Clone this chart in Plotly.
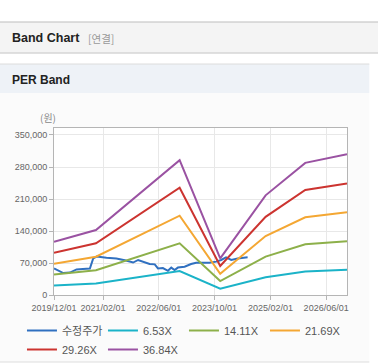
import plotly.graph_objects as go

# ---------------- data ----------------
price_dates = ["2019-12-01", "2020-01-05", "2020-02-20", "2020-04-18", "2020-06-15",
               "2020-08-09", "2020-10-09", "2020-11-07", "2020-12-07", "2021-03-03",
               "2021-05-28", "2021-08-10", "2021-09-22", "2021-10-21", "2021-12-04",
               "2022-02-16", "2022-03-14", "2022-04-28", "2022-05-26", "2022-07-08",
               "2022-08-21", "2022-09-19", "2022-10-18", "2022-11-16", "2023-01-13",
               "2023-03-11", "2023-04-24", "2023-08-18", "2023-10-16", "2023-11-28",
               "2024-01-10", "2024-02-24", "2024-04-21", "2024-07-16"]
price = [58000, 54000, 48000, 49000, 56000, 57000, 58000, 80000, 84000, 81700,
         80000, 76000, 73000, 71000, 76600, 70700, 67800, 67000, 58000, 59000,
         53000, 60000, 54700, 60000, 62000, 67800, 70700, 70700, 73000, 76600,
         82400, 76600, 80000, 82400]

band_dates = ["2019-12-01", "2020-12-01", "2022-12-01", "2023-11-20",
              "2024-12-20", "2025-12-01", "2026-11-30"]
per_653 = [20700, 25300, 52300, 14000, 39000, 51500, 55000]
per_1411 = [44700, 54300, 113000, 30600, 84000, 111000, 117500]
per_2169 = [68500, 83800, 173500, 46500, 129000, 170000, 181000]
per_2926 = [92600, 113000, 234700, 63400, 171000, 229700, 244000]
per_3684 = [116600, 142000, 295000, 80000, 218000, 289000, 307700]

series_names = ["수정주가", "6.53X", "14.11X", "21.69X", "29.26X", "36.84X"]
series_colors = ["#3070c0", "#1bb3c8", "#8db04a", "#f4a733", "#cc3430", "#9a52a2"]

x_tick_dates = ["2019-12-01", "2021-02-01", "2022-06-01", "2023-10-01",
                "2025-02-01", "2026-06-01"]
x_tick_text = ["2019/12/01", "2021/02/01", "2022/06/01", "2023/10/01",
               "2025/02/01", "2026/06/01"]
y_ticks = [0, 70000, 140000, 210000, 280000, 350000]

# ---------------- layout geometry (pixels) ----------------
W, H = 378, 364
PL, PR, PT, PB = 54, 346.7, 128, 295  # plot area edges


def px(xp):
    return (xp - PL) / (PR - PL)


def py(yp):
    return (PB - yp) / (PB - PT)


fig = go.Figure()
ys = [price, per_653, per_1411, per_2169, per_2926, per_3684]
xs = [price_dates] + [band_dates] * 5
for name, color, xv, yv in zip(series_names, series_colors, xs, ys):
    fig.add_trace(go.Scatter(x=xv, y=yv, name=name, mode="lines",
                             line=dict(color=color, width=2)))

shapes = [
    # top header bar
    dict(type="rect", xref="paper", yref="paper", x0=px(0), x1=px(W), y0=py(53), y1=py(22),
         fillcolor="#f4f4f4", line=dict(width=0), layer="below"),
    dict(type="line", xref="paper", yref="paper", x0=px(0), x1=px(W), y0=py(22), y1=py(22),
         line=dict(color="#bdbdbd", width=1), layer="below"),
    dict(type="line", xref="paper", yref="paper", x0=px(0), x1=px(W), y0=py(53), y1=py(53),
         line=dict(color="#d6d6d6", width=1.5), layer="below"),
    # PER Band header
    dict(type="rect", xref="paper", yref="paper", x0=px(0), x1=px(369), y0=py(93), y1=py(64),
         fillcolor="#eef2f7", line=dict(width=0), layer="below"),
    dict(type="line", xref="paper", yref="paper", x0=px(0), x1=px(369), y0=py(64), y1=py(64),
         line=dict(color="#dcdcdc", width=1), layer="below"),
    # chart panel
    dict(type="rect", xref="paper", yref="paper", x0=px(0), x1=px(369), y0=py(362), y1=py(93),
         fillcolor="#fbfbfb", line=dict(width=0), layer="below"),
    dict(type="line", xref="paper", yref="paper", x0=px(0), x1=px(369), y0=py(362), y1=py(362),
         line=dict(color="#dddddd", width=1), layer="below"),
    # plot area background
    dict(type="rect", xref="paper", yref="paper", x0=0, x1=1, y0=0, y1=1,
         fillcolor="#ffffff", line=dict(width=0), layer="below"),
]

annotations = [
    dict(text="<b>Band Chart</b>", xref="paper", yref="paper", x=px(10), y=py(38),
         xanchor="left", yanchor="middle", showarrow=False,
         font=dict(family="Liberation Sans, Arial, sans-serif", size=12.5, color="#222222")),
    dict(text="[연결]", xref="paper", yref="paper", x=px(86), y=py(38),
         xanchor="left", yanchor="middle", showarrow=False,
         font=dict(family="Noto Sans CJK KR, sans-serif", size=10.5, color="#999999")),
    dict(text="<b>PER Band</b>", xref="paper", yref="paper", x=px(10), y=py(80),
         xanchor="left", yanchor="middle", showarrow=False,
         font=dict(family="Liberation Sans, Arial, sans-serif", size=12, color="#222222")),
    dict(text="(원)", xref="paper", yref="paper", x=px(48), y=py(117),
         xanchor="center", yanchor="middle", showarrow=False,
         font=dict(family="Noto Sans CJK KR, sans-serif", size=10, color="#888888")),
]

fig.update_layout(
    width=W, height=H,
    margin=dict(l=PL, r=W - PR, t=PT, b=H - PB, pad=0, autoexpand=False),
    paper_bgcolor="#ffffff", plot_bgcolor="rgba(0,0,0,0)",
    shapes=shapes, annotations=annotations,
    showlegend=True,
    legend=dict(orientation="h", x=px(22), y=py(316), xanchor="left", yanchor="top",
                font=dict(family="Liberation Sans, Noto Sans CJK KR, sans-serif", size=11,
                          color="#555555"),
                bgcolor="rgba(0,0,0,0)", tracegroupgap=0, itemwidth=30,
                entrywidth=36, entrywidthmode="pixels"),
    font=dict(family="Liberation Sans, Arial, sans-serif", color="#666666"),
)

fig.update_xaxes(
    type="date", range=["2019-12-01", "2026-11-30"],
    tickmode="array", tickvals=x_tick_dates, ticktext=x_tick_text,
    tickfont=dict(size=9, color="#666666"),
    showgrid=True, gridcolor="#e8e8e8", gridwidth=1,
    showline=True, linecolor="#b5b5b5", linewidth=1, mirror=True,
    ticks="outside", ticklen=4, tickcolor="#b5b5b5",
    zeroline=False, fixedrange=True,
)
fig.update_yaxes(
    range=[0, 365300], tickmode="array", tickvals=y_ticks, tickformat=",",
    tickfont=dict(size=9, color="#666666"),
    showgrid=True, gridcolor="#e8e8e8", gridwidth=1,
    showline=True, linecolor="#b5b5b5", linewidth=1, mirror=True,
    ticks="outside", ticklen=4, tickcolor="#b5b5b5",
    zeroline=False, fixedrange=True,
)

fig.write_html("out.html", config={"displayModeBar": False},
               post_script="document.body.style.margin='0';document.body.style.overflow='hidden';")
